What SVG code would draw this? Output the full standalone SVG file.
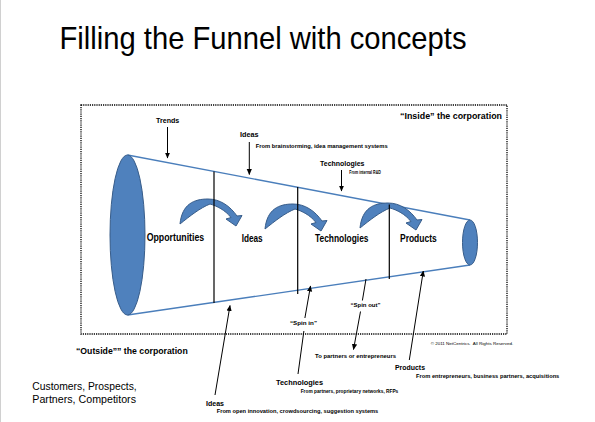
<svg xmlns="http://www.w3.org/2000/svg" width="595" height="422" viewBox="0 0 595 422">
<style>
text{font-family:"Liberation Sans",Arial,sans-serif;fill:#000}
.b{font-weight:bold}
.s{font-size:5px;font-weight:bold}
.m{font-size:7.3px;font-weight:bold}
.l{font-size:10px;font-weight:bold}
.c{font-size:8.5px;font-weight:bold}
.blob{fill:#4f81bd;stroke:#385d8a;stroke-width:1}
.fl{stroke:#4a7ebb;stroke-width:1.3;fill:none}
.vl{stroke:#000;stroke-width:1.2}
.ar{stroke:#000;stroke-width:1;fill:none}
</style>
<defs>
<marker id="ah" markerUnits="userSpaceOnUse" markerWidth="6" markerHeight="6" viewBox="0 0 6 6" refX="5.5" refY="3" orient="auto">
<path d="M0,0.4 L6,3 L0,5.6 Z" fill="#000"/>
</marker>
<path id="curv" d="M-28,24 C-26,4 -14,-1 0,-1 C12,-1 22,6 29,16 L34,15.5 L28,26 L18,19 L23,17.5 C17,10 9,6 2,4 C-8,8 -18,16 -28,24 Z"/>
</defs>
<rect width="595" height="422" fill="#fff"/>
<line x1="0.5" y1="0" x2="0.5" y2="422" stroke="#d0d0d0" stroke-width="1"/>
<text x="59.5" y="49" font-size="32" textLength="407" lengthAdjust="spacingAndGlyphs">Filling the Funnel with concepts</text>
<rect id="corporation-boundary" x="81" y="105" width="426" height="229" fill="none" stroke="#000" stroke-width="1.3" stroke-dasharray="1.2 1"/>
<g id="funnel">
<line class="fl" x1="127.5" y1="155" x2="470" y2="220"/>
<line class="fl" x1="127.5" y1="315" x2="470" y2="265"/>
<ellipse class="blob" cx="127.5" cy="235" rx="17.5" ry="80"/>
<ellipse class="blob" cx="470" cy="242.5" rx="7.5" ry="22.5"/>
</g>
<g id="stage-arrows">
<use href="#curv" class="blob" transform="translate(208,200)"/>
<use href="#curv" class="blob" transform="translate(293,205)"/>
<use href="#curv" class="blob" transform="translate(388,204)"/>
</g>
<g id="connectors">
<line class="vl" x1="214" y1="171.5" x2="214" y2="303"/>
<line class="vl" x1="297.7" y1="187" x2="297.7" y2="294"/>
<line class="vl" x1="389.3" y1="204.5" x2="389.3" y2="279"/>
<line class="ar" x1="167.5" y1="127" x2="167.5" y2="158" marker-end="url(#ah)"/>
<line class="ar" x1="249.3" y1="142" x2="249.3" y2="174.5" marker-end="url(#ah)"/>
<line class="ar" x1="341.5" y1="170" x2="341.5" y2="191" marker-end="url(#ah)"/>
<line class="ar" x1="215" y1="395" x2="230" y2="305.5" marker-end="url(#ah)"/>
<line class="ar" x1="298" y1="374" x2="303.9" y2="331"/>
<line class="ar" x1="304.9" y1="318" x2="310.5" y2="286" marker-end="url(#ah)"/>
<line class="ar" x1="366" y1="279" x2="362.4" y2="300.5"/>
<line class="ar" x1="360.5" y1="311.5" x2="353.5" y2="349.5" marker-end="url(#ah)"/>
<line class="ar" x1="409.3" y1="360" x2="423.3" y2="271" marker-end="url(#ah)"/>
</g>
<g id="stage-labels">
<text class="l" x="146.7" y="241" textLength="57.5" lengthAdjust="spacingAndGlyphs">Opportunities</text>
<text class="l" x="241.7" y="241.7" textLength="21" lengthAdjust="spacingAndGlyphs">Ideas</text>
<text class="l" x="315" y="241.7" textLength="53.5" lengthAdjust="spacingAndGlyphs">Technologies</text>
<text class="l" x="400" y="241.5" textLength="36.7" lengthAdjust="spacingAndGlyphs">Products</text>
</g>
<g id="inputs-top">
<text class="m" x="156" y="122.5" textLength="23.3" lengthAdjust="spacingAndGlyphs">Trends</text>
<text class="m" x="240" y="137" textLength="18.5" lengthAdjust="spacingAndGlyphs">Ideas</text>
<text class="s" x="255.7" y="147.7" textLength="132" lengthAdjust="spacingAndGlyphs">From brainstorming, idea management systems</text>
<text class="m" x="320" y="165.5" textLength="44.5" lengthAdjust="spacingAndGlyphs">Technologies</text>
<text class="s" x="349.3" y="174.3" textLength="31.5" lengthAdjust="spacingAndGlyphs">From internal R&amp;D</text>
<text class="c" x="400" y="119" textLength="102" lengthAdjust="spacingAndGlyphs">“Inside” the corporation</text>
</g>
<g id="inputs-bottom">
<text class="c" x="76" y="354" textLength="111.7" lengthAdjust="spacingAndGlyphs">“Outside”” the corporation</text>
<text x="32.3" y="390" font-size="10" textLength="104.4" lengthAdjust="spacingAndGlyphs">Customers, Prospects,</text>
<text x="32.3" y="403.3" font-size="10" textLength="103.7" lengthAdjust="spacingAndGlyphs">Partners, Competitors</text>
<text class="m" x="206" y="406" textLength="18" lengthAdjust="spacingAndGlyphs">Ideas</text>
<text class="s" x="216.7" y="413.3" textLength="161.6" lengthAdjust="spacingAndGlyphs">From open innovation, crowdsourcing, suggestion systems</text>
<text class="s" x="290" y="325" textLength="27" lengthAdjust="spacingAndGlyphs">“Spin in”</text>
<text class="m" x="276" y="385" textLength="47" lengthAdjust="spacingAndGlyphs">Technologies</text>
<text class="s" x="300.7" y="393.3" textLength="97.6" lengthAdjust="spacingAndGlyphs">From partners, proprietary networks, RFPs</text>
<text class="s" x="350.5" y="307" textLength="30" lengthAdjust="spacingAndGlyphs">“Spin out”</text>
<text class="s" x="315" y="358.3" textLength="81" lengthAdjust="spacingAndGlyphs">To partners or entrepreneurs</text>
<text class="m" x="395" y="370" textLength="30" lengthAdjust="spacingAndGlyphs">Products</text>
<text class="s" x="416" y="377.7" textLength="143.3" lengthAdjust="spacingAndGlyphs">From entrepreneurs, business partners, acquisitions</text>
<text x="430.7" y="345" font-size="4.3" xml:space="preserve" textLength="82.6" lengthAdjust="spacingAndGlyphs">© 2011 NetCentrics.  All Rights Reserved.</text>
</g>
</svg>
